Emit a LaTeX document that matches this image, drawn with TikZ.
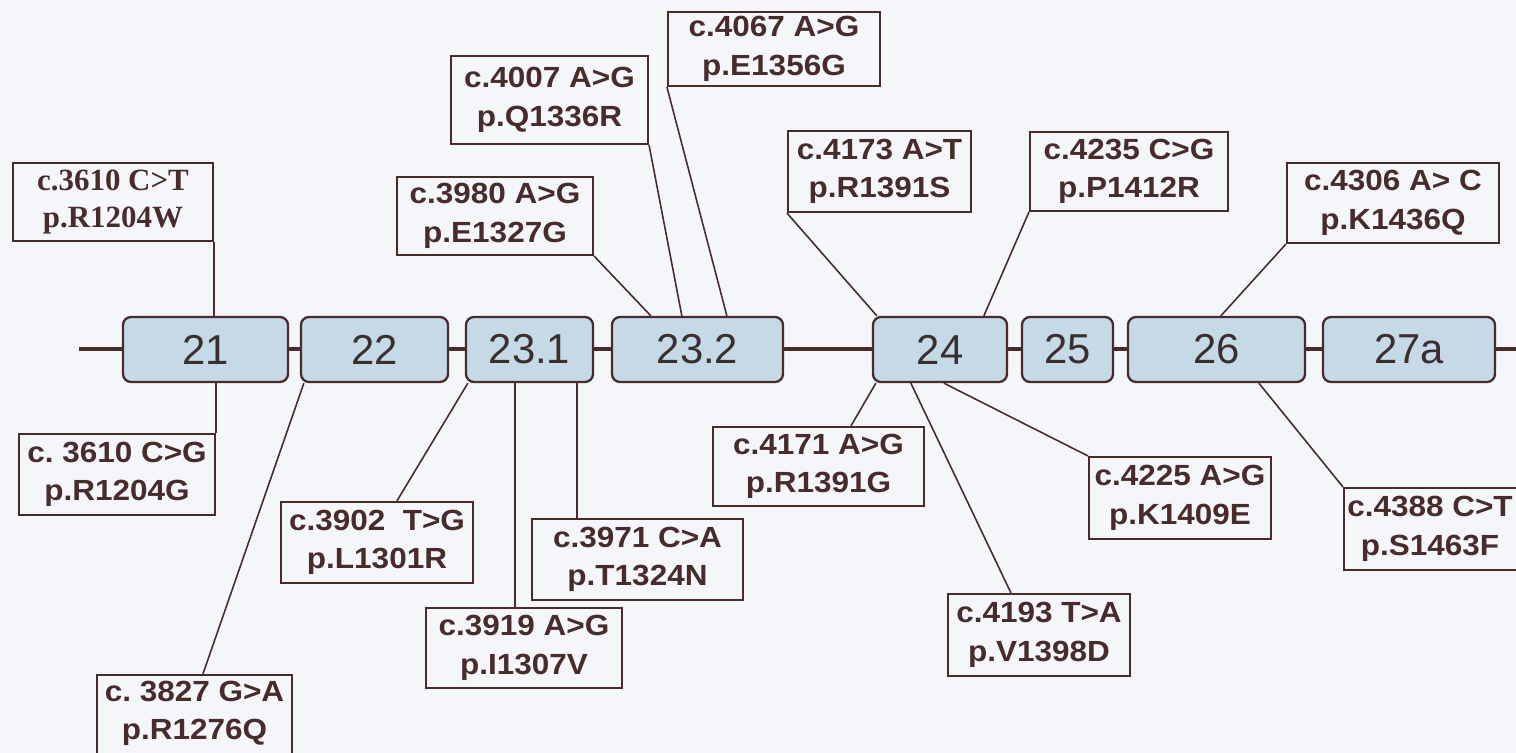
\documentclass[tikz,border=0pt]{standalone}
\usepackage{fontspec}
\setmainfont{Liberation Sans}
\newfontfamily\labfont[FakeStretch=1.08]{Liberation Sans}
\newfontfamily\serfont{Liberation Serif}
\usetikzlibrary{calc,fit}
\definecolor{bgc}{RGB}{244,246,250}
\definecolor{ink}{RGB}{72,44,44}
\definecolor{exfill}{RGB}{197,217,231}
\definecolor{extext}{RGB}{58,46,46}
\frenchspacing
\tikzset{
  exon/.style={draw=ink, line width=1.3pt, fill=exfill, rounded corners=0.16cm, inner sep=0pt},
  extxt/.style={text=extext, font=\fontsize{23.8pt}{26pt}\selectfont},
  lbox/.style={draw=ink, line width=1.2pt, inner sep=0pt, align=center, text=ink,
    font=\labfont\bfseries\fontsize{16.6pt}{22pt}\selectfont},
  sbox/.style={lbox, font=\serfont\bfseries\fontsize{17.6pt}{21.5pt}\selectfont},
  conn/.style={draw=ink, line width=0.9pt},
  backbone/.style={draw=ink, line width=2pt},
}
\begin{document}
\begin{tikzpicture}[x=0.02cm, y=-0.02cm]
\fill[bgc] (0,0) rectangle (1516,753);
\useasboundingbox (0,0) rectangle (1516,753);
% backbone
\coordinate (bbL) at (79,349);
\coordinate (bbR) at (1516,349);
\draw[backbone] (bbL) -- (bbR);
% exons
\node[exon, fit={(123,317) (288,382)}] (e21) {};
\node[exon, fit={(301,317) (448,382)}] (e22) {};
\node[exon, fit={(466,317) (593,382)}] (e231) {};
\node[exon, fit={(612,317) (783,382)}] (e232) {};
\node[exon, fit={(873,317) (1007,382)}] (e24) {};
\node[exon, fit={(1022,317) (1113,382)}] (e25) {};
\node[exon, fit={(1128,317) (1305,382)}] (e26) {};
\node[exon, fit={(1323,317) (1495,382)}] (e27a) {};
\node[extxt] (t21) at (e21) {21};
\node[extxt] (t22) at (e22) {22};
\node[extxt] (t231) at (e231) {23.1};
\node[extxt] (t232) at (e232) {23.2};
\node[extxt] (t24) at (e24) {24};
\node[extxt] (t25) at (e25) {25};
\node[extxt] (t26) at (e26) {26};
\node[extxt] (t27a) at (e27a) {27a};
% label boxes
\node[sbox, fit={(13,163) (213,241)}] (L3610T) {};
\node[lbox, fit={(19,434) (215,515)}] (L3610G) {};
\node[lbox, fit={(97,675) (292,758)}] (L3827) {};
\node[lbox, fit={(281,502) (473,583)}] (L3902) {};
\node[lbox, fit={(426,608) (622,688)}] (L3919) {};
\node[lbox, fit={(532,519) (743,600)}] (L3971) {};
\node[lbox, fit={(397,177) (593,255)}] (L3980) {};
\node[lbox, fit={(451,56) (648,144)}] (L4007) {};
\node[lbox, fit={(668,12) (880,86)}] (L4067) {};
\node[lbox, fit={(788,131) (971,212)}] (L4173) {};
\node[lbox, fit={(1030,132) (1228,211)}] (L4235) {};
\node[lbox, fit={(1287,163) (1499,243)}] (L4306) {};
\node[lbox, fit={(713,427) (924,506)}] (L4171) {};
\node[lbox, fit={(948,594) (1130,676)}] (L4193) {};
\node[lbox, fit={(1089,457) (1271,539)}] (L4225) {};
\node[lbox, fit={(1344,488) (1522,570)}] (L4388) {};
% label texts
\node[sbox, draw=none] (x3610T) at (L3610T) {c.3610 C>T\\p.R1204W};
\node[lbox, draw=none] (x3610G) at (L3610G) {c. 3610 C>G\\p.R1204G};
\node[lbox, draw=none] (x3827) at ($(L3827)+(0,-3)$) {c. 3827 G>A\\p.R1276Q};
\node[lbox, draw=none] (x3902) at (L3902) {c.3902\ \ T>G\\p.L1301R};
\node[lbox, draw=none] (x3919) at (L3919) {c.3919 A>G\\p.I1307V};
\node[lbox, draw=none] (x3971) at (L3971) {c.3971 C>A\\p.T1324N};
\node[lbox, draw=none] (x3980) at (L3980) {c.3980 A>G\\p.E1327G};
\node[lbox, draw=none] (x4007) at (L4007) {c.4007 A>G\\p.Q1336R};
\node[lbox, draw=none] (x4067) at (L4067) {c.4067 A>G\\p.E1356G};
\node[lbox, draw=none] (x4173) at (L4173) {c.4173 A>T\\p.R1391S};
\node[lbox, draw=none] (x4235) at (L4235) {c.4235 C>G\\p.P1412R};
\node[lbox, draw=none] (x4306) at (L4306) {c.4306 A> C\\p.K1436Q};
\node[lbox, draw=none] (x4171) at (L4171) {c.4171 A>G\\p.R1391G};
\node[lbox, draw=none] (x4193) at (L4193) {c.4193 T>A\\p.V1398D};
\node[lbox, draw=none] (x4225) at (L4225) {c.4225 A>G\\p.K1409E};
\node[lbox, draw=none] (x4388) at ($(L4388)+(-3,0)$) {c.4388 C>T\\p.S1463F};
% connectors
\draw[conn] (L3610T.south east) -- (L3610T.south east |- e21.north);
\draw[conn] (L3610G.north east |- e21.south) -- (L3610G.north east);
\draw[conn] ($(e22.south west)+(4,0)$) -- ($(L3827.north west)+(107,0)$);
\draw[conn] ($(e231.south west)+(3,0)$) -- ($(L3902.north west)+(117,0)$);
\coordinate (p5) at ($(L3919.north west)+(90,0)$);
\draw[conn] (p5 |- e231.south) -- (p5);
\coordinate (p6) at ($(L3971.north west)+(46,0)$);
\draw[conn] (p6 |- e231.south) -- (p6);
\draw[conn] (L3980.south east) -- ($(e232.north west)+(40,0)$);
\draw[conn] (L4007.south east) -- ($(e232.north west)+(71,0)$);
\draw[conn] (L4067.south west) -- ($(e232.north west)+(116,0)$);
\draw[conn] (L4173.south west) -- ($(e24.north west)+(5,0)$);
\draw[conn] (L4235.south west) -- ($(e24.north west)+(112,0)$);
\draw[conn] (L4306.south west) -- ($(e26.north west)+(94,0)$);
\draw[conn] ($(L4171.north west)+(139,0)$) -- ($(e24.south west)+(4,0)$);
\draw[conn] ($(L4193.north west)+(64,0)$) -- ($(e24.south west)+(39,0)$);
\draw[conn] (L4225.north west) -- ($(e24.south west)+(72,0)$);
\draw[conn] (L4388.north west) -- ($(e26.south west)+(132,0)$);
\end{tikzpicture}
\end{document}
